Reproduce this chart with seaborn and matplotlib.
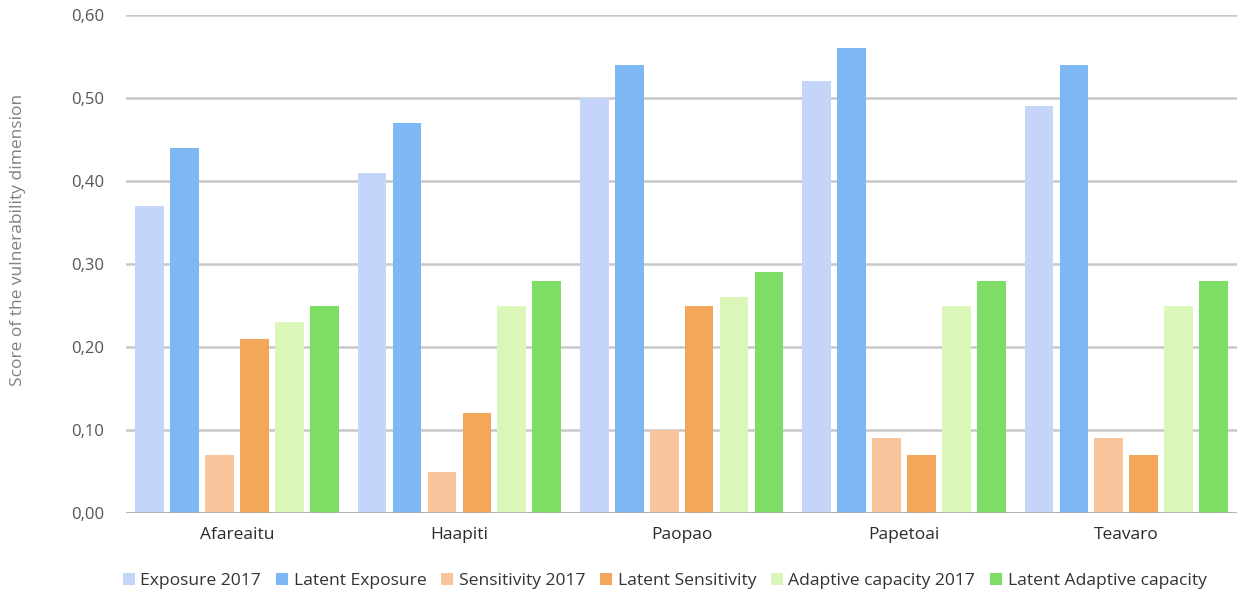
import matplotlib
matplotlib.use("Agg")
import matplotlib.pyplot as plt
import seaborn as sns
import pandas as pd
from matplotlib.ticker import FuncFormatter, MultipleLocator
from matplotlib.patches import Patch

communes = ["Afareaitu", "Haapiti", "Paopao", "Papetoai", "Teavaro"]
series = ["Exposure 2017", "Latent Exposure", "Sensitivity 2017",
          "Latent Sensitivity", "Adaptive capacity 2017", "Latent Adaptive capacity"]
exposure_2017 = [0.37, 0.41, 0.50, 0.52, 0.49]
latent_exposure = [0.44, 0.47, 0.54, 0.56, 0.54]
sensitivity_2017 = [0.07, 0.05, 0.10, 0.09, 0.09]
latent_sensitivity = [0.21, 0.12, 0.25, 0.07, 0.07]
adaptive_2017 = [0.23, 0.25, 0.26, 0.25, 0.25]
latent_adaptive = [0.25, 0.28, 0.29, 0.28, 0.28]
colors = ["#C5D5FA", "#7DB7F4", "#F7C49B", "#F3A75A", "#DAF7B9", "#7EDD65"]

values = [exposure_2017, latent_exposure, sensitivity_2017,
          latent_sensitivity, adaptive_2017, latent_adaptive]
rows = []
for s, vals in zip(series, values):
    for c, v in zip(communes, vals):
        rows.append({"Commune": c, "Series": s, "Score": v})
df = pd.DataFrame(rows)

sns.set_theme(style="white")
plt.rcParams["font.family"] = ["Open Sans", "DejaVu Sans"]

fig = plt.figure(figsize=(12.38, 6.02), dpi=100)
ax = fig.add_axes([126 / 1238, 1 - 513 / 602, 1 - 126 / 1238 - 0.0005, (513 - 15) / 602])

sns.barplot(data=df, x="Commune", y="Score", hue="Series", order=communes,
            hue_order=series, palette=colors, width=0.943, gap=0.18,
            saturation=1, linewidth=0, edgecolor="none", ax=ax, legend=False, zorder=3)

ax.set_ylim(0, 0.6)
ax.set_xlim(-0.5, 4.5)
ax.yaxis.set_major_locator(MultipleLocator(0.1))
ax.yaxis.set_major_formatter(FuncFormatter(lambda v, p: f"{v:.2f}".replace(".", ",")))
ax.grid(axis="y", color="#C8C8C8", linewidth=1.8, zorder=0)
ax.grid(axis="x", visible=False)
for sp in ax.spines.values():
    sp.set_visible(False)
ax.axhline(0, color="#A8A8A8", linewidth=1.8, zorder=4)

ax.tick_params(axis="y", which="major", length=0, labelsize=12, labelcolor="#555555", pad=16)
ax.tick_params(axis="x", length=0, labelsize=12.5, labelcolor="#2A2A2A", pad=10)
ax.set_xlabel("")
ax.set_ylabel("")
fig.text(18 / 1238, 1 - 240 / 602, "Score of the vulnerability dimension", rotation=90,
         ha="center", va="center", fontsize=12.5, color="#808080")

handles = [Patch(facecolor=c, edgecolor="none") for c in colors]
fig.legend(handles, series, loc="lower center", bbox_to_anchor=(0.537, -0.005), ncol=6,
           frameon=False, fontsize=12.6, handlelength=0.7, handleheight=0.7,
           handletextpad=0.3, columnspacing=0.85, labelcolor="#333333")

fig.savefig("out.png", dpi=100)
